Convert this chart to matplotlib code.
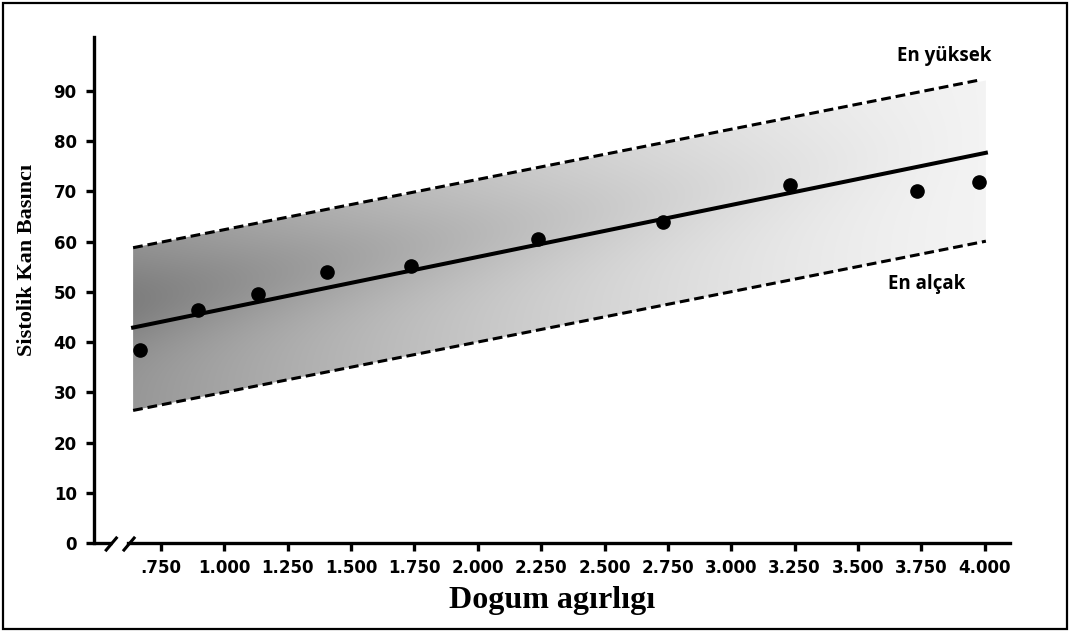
import numpy as np
import matplotlib.pyplot as plt
from matplotlib.patches import Polygon, Rectangle
from matplotlib.lines import Line2D

# data
weights = [0.668, 0.897, 1.134, 1.406, 1.737, 2.238, 2.730, 3.231, 3.732, 3.977]
pressure = [38.4, 46.4, 49.6, 54.0, 55.2, 60.6, 63.9, 71.3, 70.1, 71.9]

line_x = [0.641, 4.004]
mean_y = [42.9, 77.7]
upper_y = [58.8, 92.1]
lower_y = [26.4, 60.1]
upper_x = [0.641, 3.97]

xticks = [0.75, 1.0, 1.25, 1.5, 1.75, 2.0, 2.25, 2.5, 2.75, 3.0, 3.25, 3.5, 3.75, 4.0]
xticklabels = [".750", "1.000", "1.250", "1.500", "1.750", "2.000", "2.250",
               "2.500", "2.750", "3.000", "3.250", "3.500", "3.750", "4.000"]
yticks = [0, 10, 20, 30, 40, 50, 60, 70, 80, 90]

XMIN, XMAX = 0.487, 4.099
YMIN, YMAX = 0, 100.8

fig = plt.figure(figsize=(10.7, 6.32), dpi=100)
ax = fig.add_axes([0.0879, 0.1408, 0.856, 0.801])
ax.set_xlim(XMIN, XMAX)
ax.set_ylim(YMIN, YMAX)

# shaded band (gradient, darker on the upper left)
band = Polygon([(line_x[0], lower_y[0]), (line_x[1], lower_y[1]),
                (line_x[1], upper_y[1]), (line_x[0], upper_y[0])],
               closed=True, facecolor="none", edgecolor="none")
ax.add_patch(band)
gx = np.linspace(0, 1, 400)
gy = np.linspace(0, 1, 200)
GX, GY = np.meshgrid(gx, gy)
# band runs diagonally; measure height relative to the band's own centre
centre = 0.25 + 0.5 * GX
rel = GY - centre
shade = 0.36 * (1 - GX) ** 1.4 + 0.05 + 0.10 * np.exp(-((rel - 0.08) ** 2) / 0.02) * (1 - GX)
rgba = np.zeros((200, 400, 4))
rgba[..., 3] = np.clip(shade, 0, 1)
img = ax.imshow(rgba, extent=[line_x[0], line_x[1], lower_y[0], upper_y[1]],
                origin="lower", aspect="auto", interpolation="bilinear", zorder=1)
img.set_clip_path(band)

# bounds and regression line
ax.plot(upper_x, upper_y, color="black", lw=2.2, ls=(0, (3.2, 1.6)), zorder=3)
ax.plot(line_x, lower_y, color="black", lw=2.2, ls=(0, (3.2, 1.6)), zorder=3)
ax.plot(line_x, mean_y, color="black", lw=2.9, zorder=3)
ax.plot(weights, pressure, "o", color="black", ms=9.5, zorder=4)

# axes styling
for s in ["top", "right"]:
    ax.spines[s].set_visible(False)
ax.spines["left"].set_linewidth(2.4)
ax.spines["bottom"].set_linewidth(2.4)
ax.spines["bottom"].set_bounds(0.621, XMAX)

ax.set_xticks(xticks)
ax.set_xticklabels(xticklabels)
ax.set_yticks(yticks)
ax.tick_params(axis="both", width=2.4, length=5.5, direction="out")
ax.tick_params(axis="x", pad=6)
ax.tick_params(axis="y", pad=7)
for lab in ax.get_xticklabels() + ax.get_yticklabels():
    lab.set_fontfamily("DejaVu Sans")
    lab.set_fontweight("bold")
    lab.set_fontsize(12)

# axis break on the x axis
ax.plot([XMIN, 0.558], [0, 0], color="black", lw=2.4, clip_on=False, solid_capstyle="butt")
for bx in [0.535, 0.605]:
    ax.add_line(Line2D([bx, bx + 0.04], [-1.4, 1.0], color="black", lw=2.2, clip_on=False))

ax.set_xlabel("Dogum agırlıgı", family="Liberation Serif", fontweight="bold",
              fontsize=23)
ax.xaxis.set_label_coords(0.5, -0.085)
ax.set_ylabel("Sistolik Kan Basıncı", family="Liberation Serif", fontweight="bold",
              fontsize=16)
ax.yaxis.set_label_coords(-0.062, 0.559)

ax.text(3.84, 97.0, "En yüksek", family="Open Sans", fontweight="bold",
        fontsize=13.5, ha="center", va="center")
ax.text(3.77, 51.6, "En alçak", family="Open Sans", fontweight="bold",
        fontsize=13.5, ha="center", va="center")

# outer frame around the picture
fig.add_artist(Rectangle((0.003, 0.005), 0.994, 0.99, transform=fig.transFigure,
                         fill=False, edgecolor="black", lw=1.6))

fig.savefig("out.png", dpi=100)
